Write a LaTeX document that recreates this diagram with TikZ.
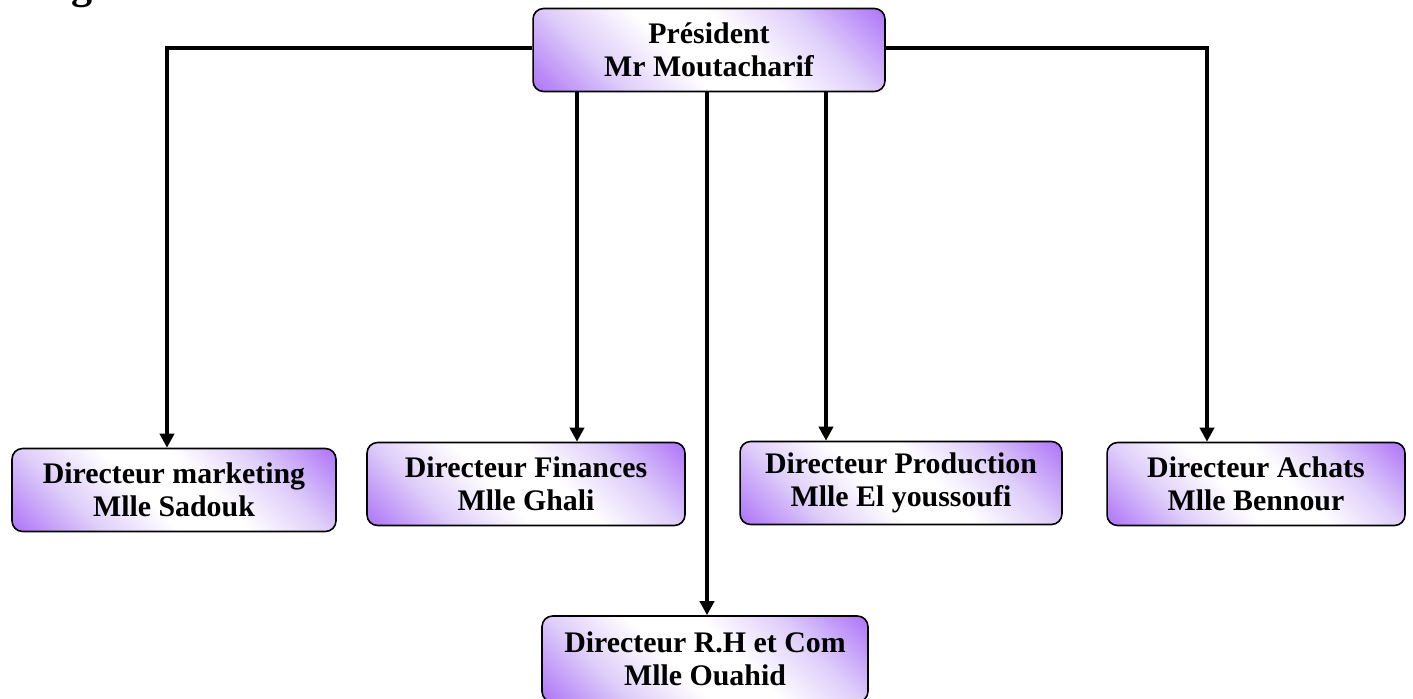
\documentclass[tikz,border=0pt]{standalone}
\usepackage{fontspec}
\setmainfont{Liberation Serif}
\usepackage{xcolor}
\usepackage{tikz}
\usetikzlibrary{arrows.meta,shapes,positioning,calc}

\definecolor{violetfort}{RGB}{128,30,245}
\definecolor{violetclair}{RGB}{222,205,250}
\pgfdeclarehorizontalshading{diagviolet}{100bp}{color(0bp)=(violetfort); color(30bp)=(violetclair); color(44bp)=(white); color(56bp)=(white); color(70bp)=(violetclair); color(100bp)=(violetfort)}

\begin{document}
\begin{tikzpicture}[
    x=0.02cm, y=-0.02cm,
    poste/.style={draw, line width=0.9pt, rounded corners=6pt, align=center, shading=diagviolet, shading angle=45,
                  minimum height=1.66cm, font=\bfseries\fontsize{17}{18.5}\selectfont, inner sep=2pt},
    lien/.style={line width=2pt, -{Triangle[width=8pt,length=8pt]}},
]
\clip (0,0) rectangle (1413,698);
\fill[white] (0,0) rectangle (1413,698);

% titre coupe en haut
\node[font=\bfseries\fontsize{24}{24}\selectfont, anchor=base] (titre) at (82,-2) {g};

% le president
\node[poste, minimum width=7.04cm] (pres) at (709,50) {Président \\ Mr Moutacharif};

% les directeurs
\node[poste, minimum width=6.48cm] (mark) at (174,490) {Directeur marketing \\ Mlle Sadouk};
\node[poste, minimum width=6.36cm] (fin) at (526,484) {Directeur Finances \\ Mlle Ghali};
\node[poste, minimum width=6.44cm] (prod) at (901,483) {Directeur Production \\ Mlle El youssoufi};
\node[poste, minimum width=5.96cm] (ach) at (1256,484) {Directeur Achats \\ Mlle Bennour};
\node[poste, minimum width=6.52cm, minimum height=1.72cm] (rh) at (705,659) {Directeur R.H et Com \\ Mlle Ouahid};

% coudes des liens lateraux
\coordinate (cg) at (167,48);
\coordinate (cd) at (1207,48);

% liens
\draw[lien] (pres.west |- cg) -- (cg) -- (cg |- mark.north);
\draw[lien] (pres.east |- cd) -- (cd) -- (cd |- ach.north);
\draw[lien] (577,0 |- pres.south) -- (577,0 |- fin.north);
\draw[lien] (826,0 |- pres.south) -- (826,0 |- prod.north);
\draw[lien] (707,0 |- pres.south) -- (707,0 |- rh.north);

\end{tikzpicture}
\end{document}
